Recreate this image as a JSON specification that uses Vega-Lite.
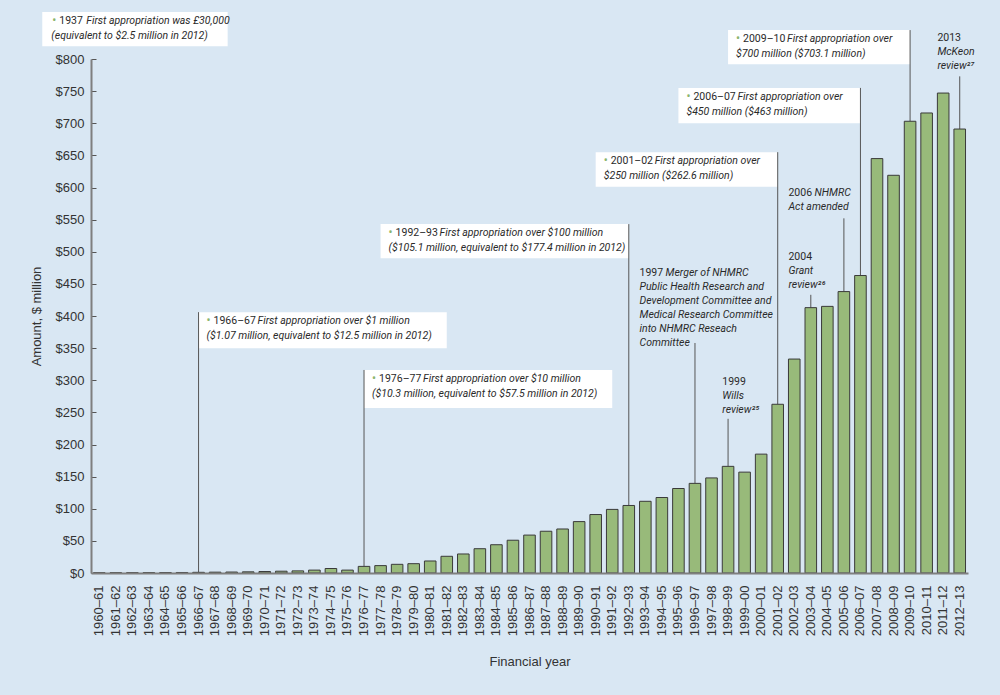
{
  "$schema": "https://vega.github.io/schema/vega-lite/v6.json",
  "width": 877,
  "height": 514,
  "autosize": "none",
  "padding": {"left": 91, "top": 59, "right": 32, "bottom": 122},
  "background": "#d9e7f3",
  "config": {
    "view": {"stroke": null},
    "font": "Liberation Sans",
    "text": {"font": "Roboto", "fontSize": 10.5, "color": "#2a2a2a", "baseline": "top", "align": "left", "lineBreak": "\n", "lineHeight": 14}
  },
  "datasets": {
    "bars": [
      {"year": "1960–61", "amount": 0.4},
      {"year": "1961–62", "amount": 0.45},
      {"year": "1962–63", "amount": 0.5},
      {"year": "1963–64", "amount": 0.6},
      {"year": "1964–65", "amount": 0.7},
      {"year": "1965–66", "amount": 0.8},
      {"year": "1966–67", "amount": 1.07},
      {"year": "1967–68", "amount": 1.3},
      {"year": "1968–69", "amount": 1.5},
      {"year": "1969–70", "amount": 1.8},
      {"year": "1970–71", "amount": 2.3},
      {"year": "1971–72", "amount": 2.8},
      {"year": "1972–73", "amount": 3.3},
      {"year": "1973–74", "amount": 4.5},
      {"year": "1974–75", "amount": 7},
      {"year": "1975–76", "amount": 4.5},
      {"year": "1976–77", "amount": 10.3},
      {"year": "1977–78", "amount": 11.5},
      {"year": "1978–79", "amount": 13.5},
      {"year": "1979–80", "amount": 14.5},
      {"year": "1980–81", "amount": 18.7},
      {"year": "1981–82", "amount": 26},
      {"year": "1982–83", "amount": 29.6},
      {"year": "1983–84", "amount": 37.8},
      {"year": "1984–85", "amount": 44},
      {"year": "1985–86", "amount": 51},
      {"year": "1986–87", "amount": 59},
      {"year": "1987–88", "amount": 65},
      {"year": "1988–89", "amount": 68.5},
      {"year": "1989–90", "amount": 80},
      {"year": "1990–91", "amount": 91},
      {"year": "1991–92", "amount": 99},
      {"year": "1992–93", "amount": 105.1},
      {"year": "1993–94", "amount": 111.6},
      {"year": "1994–95", "amount": 117.5},
      {"year": "1995–96", "amount": 131.5},
      {"year": "1996–97", "amount": 139.5},
      {"year": "1997–98", "amount": 148},
      {"year": "1998–99", "amount": 166},
      {"year": "1999–00", "amount": 157},
      {"year": "2000–01", "amount": 185},
      {"year": "2001–02", "amount": 262.6},
      {"year": "2002–03", "amount": 333},
      {"year": "2003–04", "amount": 413},
      {"year": "2004–05", "amount": 415},
      {"year": "2005–06", "amount": 438},
      {"year": "2006–07", "amount": 463},
      {"year": "2007–08", "amount": 645},
      {"year": "2008–09", "amount": 619},
      {"year": "2009–10", "amount": 703.1},
      {"year": "2010–11", "amount": 716},
      {"year": "2011–12", "amount": 747},
      {"year": "2012–13", "amount": 691}
    ],
    "leaders": [
      {"year": "1966–67", "top": 406, "bottom": 1.07},
      {"year": "1976–77", "top": 316, "bottom": 10.3},
      {"year": "1992–93", "top": 543, "bottom": 105.1},
      {"year": "1996–97", "top": 358, "bottom": 139.5},
      {"year": "1998–99", "top": 240, "bottom": 166},
      {"year": "2001–02", "top": 655, "bottom": 262.6},
      {"year": "2003–04", "top": 433, "bottom": 413},
      {"year": "2005–06", "top": 552, "bottom": 438},
      {"year": "2006–07", "top": 755, "bottom": 463},
      {"year": "2009–10", "top": 845, "bottom": 703.1},
      {"year": "2012–13", "top": 773, "bottom": 691}
    ],
    "boxes": [
      {"from": "1966–67", "to": "1981–82", "top": 406, "bottom": 350, "lead": "1966–67", "rest": "First appropriation over $1 million", "line2": "($1.07 million, equivalent to $12.5 million in 2012)"},
      {"from": "1976–77", "to": "1991–92", "top": 316, "bottom": 257, "lead": "1976–77", "rest": "First appropriation over $10 million", "line2": "($10.3 million, equivalent to $57.5  million in 2012)"},
      {"from": "1977–78", "to": "1992–93", "top": 543, "bottom": 490, "lead": "1992–93", "rest": "First appropriation over $100 million", "line2": "($105.1 million, equivalent to $177.4 million in 2012)"},
      {"from": "1990–91", "to": "2001–02", "top": 655, "bottom": 601, "lead": "2001–02", "rest": "First appropriation over", "line2": "$250 million ($262.6 million)"},
      {"from": "1995–96", "to": "2006–07", "top": 755, "bottom": 700, "lead": "2006–07", "rest": "First appropriation over", "line2": "$450 million ($463 million)"},
      {"from": "1998–99", "to": "2009–10", "top": 845, "bottom": 792, "lead": "2009–10", "rest": "First appropriation over", "line2": "$700 million ($703.1 million)"}
    ],
    "first": [
      {"from": "1960–61", "to": "1968–69", "top": 873, "bottom": 820, "lead": "1937", "rest": "First appropriation was £30,000", "line2": "(equivalent to $2.5 million in 2012)"}
    ],
    "notes": [
      {"at": "1993–94", "top": 475, "lead": "1997", "rest": "Merger of NHMRC", "below": "Public Health Research and\nDevelopment Committee and\nMedical Research Committee\ninto NHMRC Reseach\nCommittee"},
      {"at": "1998–99", "top": 305, "lead": "1999", "rest": "", "below": "Wills\nreview²⁵"},
      {"at": "2002–03", "top": 500, "lead": "2004", "rest": "", "below": "Grant\nreview²⁶"},
      {"at": "2002–03", "top": 599, "lead": "2006", "rest": "NHMRC", "below": "Act amended"},
      {"at": "2011–12", "top": 840, "lead": "2013", "rest": "", "below": "McKeon\nreview²⁷"}
    ]
  },
  "encoding": {
    "x": {
      "field": "year",
      "type": "nominal",
      "scale": {"paddingInner": 0.3, "paddingOuter": 0.15},
      "axis": {
        "title": "Financial year",
        "labelAngle": -90,
        "labelAlign": "right",
        "labelBaseline": "middle",
        "labelPadding": 12,
        "labelFontSize": 13,
        "labelColor": "#333",
        "ticks": false,
        "domainColor": "#7f7f7f",
        "domainWidth": 2,
        "titleFontSize": 13,
        "titleFontWeight": "normal",
        "titleColor": "#333",
        "titlePadding": 20
      }
    },
    "y": {
      "field": "amount",
      "type": "quantitative",
      "scale": {"domain": [0, 800], "nice": false},
      "axis": {
        "title": "Amount, $ million",
        "values": [0, 50, 100, 150, 200, 250, 300, 350, 400, 450, 500, 550, 600, 650, 700, 750, 800],
        "format": "$.0f",
        "grid": false,
        "tickSize": -5,
        "tickColor": "#555",
        "labelPadding": 12,
        "labelFontSize": 13,
        "labelColor": "#333",
        "domainColor": "#7f7f7f",
        "domainWidth": 2,
        "titleFontSize": 13,
        "titleFontWeight": "normal",
        "titleColor": "#333",
        "titlePadding": 12
      }
    }
  },
  "layer": [
    {
      "data": {"name": "boxes"},
      "mark": {"type": "rect", "fill": "white"},
      "encoding": {
        "x": {"field": "from", "type": "nominal", "bandPosition": 0.5},
        "x2": {"field": "to", "bandPosition": 0.5},
        "y": {"field": "top", "type": "quantitative"},
        "y2": {"field": "bottom"}
      }
    },
    {
      "data": {"name": "first"},
      "mark": {"type": "rect", "fill": "white", "xOffset": -57, "x2Offset": -4},
      "encoding": {
        "x": {"field": "from", "type": "nominal", "bandPosition": 0.5},
        "x2": {"field": "to", "bandPosition": 0.5},
        "y": {"field": "top", "type": "quantitative"},
        "y2": {"field": "bottom"}
      }
    },
    {
      "data": {"name": "leaders"},
      "mark": {"type": "rule", "color": "#555", "strokeWidth": 1},
      "encoding": {
        "x": {"field": "year", "type": "nominal"},
        "y": {"field": "top", "type": "quantitative"},
        "y2": {"field": "bottom"}
      }
    },
    {
      "data": {"name": "bars"},
      "mark": {"type": "bar", "fill": "#98ba7a", "stroke": "#3a3a3a", "strokeWidth": 1}
    },
    {
      "data": {"name": "boxes"},
      "mark": {"type": "text", "text": "•", "color": "#8cb56d", "fontSize": 12, "dx": 8, "dy": 3},
      "encoding": {
        "x": {"field": "from", "type": "nominal", "bandPosition": 0.5},
        "y": {"field": "top", "type": "quantitative"}
      }
    },
    {
      "data": {"name": "boxes"},
      "mark": {"type": "text", "dx": 15, "dy": 4},
      "encoding": {
        "x": {"field": "from", "type": "nominal", "bandPosition": 0.5},
        "y": {"field": "top", "type": "quantitative"},
        "text": {"field": "lead"}
      }
    },
    {
      "data": {"name": "boxes"},
      "mark": {"type": "text", "fontStyle": "italic", "dx": 59, "dy": 4},
      "encoding": {
        "x": {"field": "from", "type": "nominal", "bandPosition": 0.5},
        "y": {"field": "top", "type": "quantitative"},
        "text": {"field": "rest"}
      }
    },
    {
      "data": {"name": "boxes"},
      "mark": {"type": "text", "fontStyle": "italic", "dx": 8, "dy": 19},
      "encoding": {
        "x": {"field": "from", "type": "nominal", "bandPosition": 0.5},
        "y": {"field": "top", "type": "quantitative"},
        "text": {"field": "line2"}
      }
    },
    {
      "data": {"name": "first"},
      "mark": {"type": "text", "text": "•", "color": "#8cb56d", "fontSize": 12, "dx": -47, "dy": 3},
      "encoding": {
        "x": {"field": "from", "type": "nominal", "bandPosition": 0.5},
        "y": {"field": "top", "type": "quantitative"}
      }
    },
    {
      "data": {"name": "first"},
      "mark": {"type": "text", "dx": -40, "dy": 4},
      "encoding": {
        "x": {"field": "from", "type": "nominal", "bandPosition": 0.5},
        "y": {"field": "top", "type": "quantitative"},
        "text": {"field": "lead"}
      }
    },
    {
      "data": {"name": "first"},
      "mark": {"type": "text", "fontStyle": "italic", "dx": -13, "dy": 4},
      "encoding": {
        "x": {"field": "from", "type": "nominal", "bandPosition": 0.5},
        "y": {"field": "top", "type": "quantitative"},
        "text": {"field": "rest"}
      }
    },
    {
      "data": {"name": "first"},
      "mark": {"type": "text", "fontStyle": "italic", "dx": -48, "dy": 19},
      "encoding": {
        "x": {"field": "from", "type": "nominal", "bandPosition": 0.5},
        "y": {"field": "top", "type": "quantitative"},
        "text": {"field": "line2"}
      }
    },
    {
      "data": {"name": "notes"},
      "mark": {"type": "text"},
      "encoding": {
        "x": {"field": "at", "type": "nominal", "bandPosition": 0},
        "y": {"field": "top", "type": "quantitative"},
        "text": {"field": "lead"}
      }
    },
    {
      "data": {"name": "notes"},
      "mark": {"type": "text", "fontStyle": "italic", "dx": 26},
      "encoding": {
        "x": {"field": "at", "type": "nominal", "bandPosition": 0},
        "y": {"field": "top", "type": "quantitative"},
        "text": {"field": "rest"}
      }
    },
    {
      "data": {"name": "notes"},
      "mark": {"type": "text", "fontStyle": "italic", "dy": 14},
      "encoding": {
        "x": {"field": "at", "type": "nominal", "bandPosition": 0},
        "y": {"field": "top", "type": "quantitative"},
        "text": {"field": "below"}
      }
    }
  ]
}
